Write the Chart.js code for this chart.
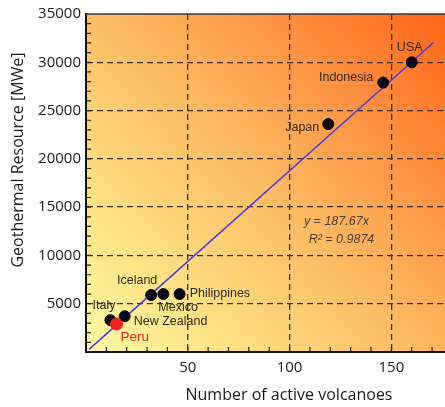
<!DOCTYPE html>
<html lang="en">
<head>
  <meta charset="UTF-8">
  <title>Geothermal resource vs active volcanoes</title>
  <script src="https://cdn.jsdelivr.net/npm/chart.js"></script>
  <style>
    html, body {
      margin: 0;
      padding: 0;
      background: #fff;
      overflow: hidden;
    }
    #wrap {
      width: 513px;
      height: 407px;
      position: relative;
    }
  </style>
</head>
<body>
  <div id="wrap"><canvas id="geoChart"></canvas></div>

  <script>
    // values
    const countries = ['Italy', 'New Zealand', 'Iceland', 'Mexico', 'Philippines', 'Japan', 'Indonesia', 'USA'];
    const volcanoes = [12, 19, 32, 38, 46, 119, 146, 160];
    const resourceMWe = [3300, 3700, 5900, 6000, 6000, 23600, 27900, 30000];

    const peruName = 'Peru';
    const peruVolcanoes = [15];
    const peruMWe = [2900];

    // fitted line y = 187.67x, ends as drawn
    const trendX = [1.5, 171];
    const trendY = [280, 32100];

    const equationText = ['y = 187.67x', 'R² = 0.9874'];

    // label placement relative to each point (px)
    const labelStyle = {
      'Italy':       { dx: 5,   dy: -15, align: 'right' },
      'New Zealand': { dx: 9,   dy: 5,   align: 'left' },
      'Iceland':     { dx: -14, dy: -14, align: 'center' },
      'Mexico':      { dx: -5,  dy: 13,  align: 'left' },
      'Philippines': { dx: 10,  dy: -1,  align: 'left' },
      'Japan':       { dx: -9,  dy: 3,   align: 'right' },
      'Indonesia':   { dx: -10, dy: -5,  align: 'right' },
      'USA':         { dx: -2,  dy: -15, align: 'center' },
      'Peru':        { dx: 4,   dy: 13,  align: 'left' }
    };

    const backdrop = {
      id: 'backdrop',
      beforeDraw(chart) {
        const { ctx, chartArea: a } = chart;
        const right = Math.min(a.right, 445);
        const g = ctx.createLinearGradient(a.left, a.bottom, right, a.top);
        g.addColorStop(0, '#fff8a6');
        g.addColorStop(0.2, '#fee486');
        g.addColorStop(0.5, '#fdbb62');
        g.addColorStop(0.75, '#fe9040');
        g.addColorStop(1, '#ff6416');
        ctx.save();
        ctx.fillStyle = g;
        ctx.fillRect(a.left, a.top, a.right - a.left, a.bottom - a.top);
        ctx.restore();
      },
      afterDraw(chart) {
        const { ctx, chartArea: a, scales } = chart;
        ctx.save();
        // inward minor ticks
        ctx.strokeStyle = '#222';
        ctx.lineWidth = 1.2;
        ctx.beginPath();
        scales.y.ticks.forEach(t => {
          const y = scales.y.getPixelForValue(t.value);
          if (t.value <= 0 || t.value >= 35000) return;
          ctx.moveTo(a.left, y);
          ctx.lineTo(a.left + 5, y);
        });
        scales.x.ticks.forEach(t => {
          const x = scales.x.getPixelForValue(t.value);
          if (t.value <= 0) return;
          ctx.moveTo(x, a.bottom);
          ctx.lineTo(x, a.bottom - 5);
        });
        ctx.stroke();
        // top frame
        ctx.strokeStyle = '#3a3a3a';
        ctx.lineWidth = 1.5;
        ctx.beginPath();
        ctx.moveTo(a.left, a.top);
        ctx.lineTo(a.right, a.top);
        ctx.stroke();

        // axis titles
        ctx.fillStyle = '#1a1a1a';
        ctx.font = '16px "Open Sans", sans-serif';
        ctx.textAlign = 'center';
        ctx.textBaseline = 'middle';
        ctx.fillText('Number of active volcanoes', 289, 395);
        ctx.translate(18, 160);
        ctx.rotate(-Math.PI / 2);
        ctx.fillText('Geothermal Resource [MWe]', 0, 0);
        ctx.restore();
      },
      afterDatasetsDraw(chart) {
        const { ctx, scales } = chart;
        ctx.save();
        ctx.textBaseline = 'middle';
        ctx.font = '12.5px "Liberation Sans", Arial, sans-serif';
        ctx.fillStyle = '#2e2a26';
        countries.forEach((name, i) => {
          const s = labelStyle[name];
          const x = scales.x.getPixelForValue(volcanoes[i]) + s.dx;
          const y = scales.y.getPixelForValue(resourceMWe[i]) + s.dy;
          ctx.textAlign = s.align;
          ctx.fillText(name, x, y);
        });
        const ps = labelStyle[peruName];
        ctx.font = '13.5px "Liberation Sans", Arial, sans-serif';
        ctx.fillStyle = '#e3261d';
        ctx.textAlign = ps.align;
        ctx.fillText(peruName, scales.x.getPixelForValue(peruVolcanoes[0]) + ps.dx,
          scales.y.getPixelForValue(peruMWe[0]) + ps.dy);

        // regression text
        ctx.font = 'italic 12.5px "Liberation Sans", Arial, sans-serif';
        ctx.fillStyle = '#4a4038';
        ctx.textAlign = 'center';
        ctx.fillText(equationText[0], scales.x.getPixelForValue(123), scales.y.getPixelForValue(13520));
        ctx.fillText(equationText[1], scales.x.getPixelForValue(125.5), scales.y.getPixelForValue(11650));
        ctx.restore();
      }
    };

    const majorY = v => v > 0 && v < 35000 && v % 5000 === 0;
    const majorX = v => v > 0 && v % 50 === 0;

    new Chart(document.getElementById('geoChart'), {
      type: 'scatter',
      plugins: [backdrop],
      data: {
        datasets: [
          {
            type: 'line',
            data: trendX.map((x, i) => ({ x, y: trendY[i] })),
            borderColor: '#4b3ee0',
            borderWidth: 1.6,
            pointRadius: 0,
            fill: false,
            order: 3
          },
          {
            data: volcanoes.map((x, i) => ({ x, y: resourceMWe[i] })),
            backgroundColor: '#0a0a12',
            borderColor: '#0a0a12',
            pointRadius: 5.5,
            order: 2
          },
          {
            data: peruVolcanoes.map((x, i) => ({ x, y: peruMWe[i] })),
            backgroundColor: '#f0221c',
            borderColor: '#f0221c',
            pointRadius: 6,
            order: 1
          }
        ]
      },
      options: {
        responsive: true,
        maintainAspectRatio: false,
        animation: false,
        layout: { padding: { top: 11, right: 8, left: 0, bottom: 0 } },
        plugins: {
          legend: { display: false },
          tooltip: { enabled: false }
        },
        scales: {
          x: {
            type: 'linear',
            min: 0,
            max: 200,
            afterFit: s => { s.height = 55; },
            ticks: {
              stepSize: 10,
              autoSkip: false,
              maxRotation: 0,
              padding: 7,
              color: '#1a1a1a',
              font: { family: '"Open Sans", sans-serif', size: 15 },
              callback: v => majorX(v) ? v : ''
            },
            grid: {
              drawTicks: false,
              lineWidth: 1.3,
              color: c => (c.tick && majorX(c.tick.value)) ? '#3a2e22' : 'transparent'
            },
            border: { display: true, color: '#111', width: 2, dash: [6, 4] }
          },
          y: {
            min: 0,
            max: 35000,
            afterFit: s => { s.width = 86; },
            ticks: {
              stepSize: 1000,
              autoSkip: false,
              padding: 5,
              color: '#1a1a1a',
              font: { family: '"Open Sans", sans-serif', size: 15 },
              callback: v => (v > 0 && v % 5000 === 0) ? v : ''
            },
            grid: {
              drawTicks: false,
              lineWidth: 1.3,
              color: c => (c.tick && majorY(c.tick.value)) ? '#3a2e22' : 'transparent'
            },
            border: { display: true, color: '#111', width: 2, dash: [6, 4] }
          }
        }
      }
    });
  </script>
</body>
</html>
